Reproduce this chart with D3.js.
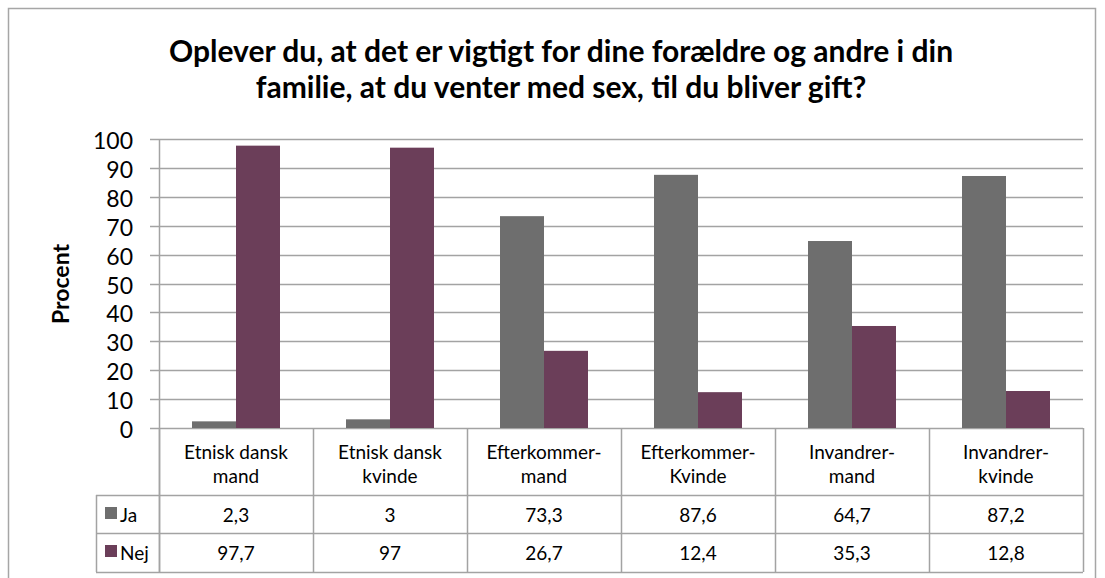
<!DOCTYPE html>
<html>
<head>
<meta charset="utf-8">
<script src="https://cdn.jsdelivr.net/npm/d3@7"></script>
<style>
  body { margin: 0; background: #fff; }
  text { font-family: Lato, "Open Sans", sans-serif; fill: #000; }
</style>
</head>
<body>
<svg id="chart" width="1105" height="578"></svg>
<script>
// data
var categories = [
	["Etnisk dansk", "mand"],
	["Etnisk dansk", "kvinde"],
	["Efterkommer-", "mand"],
	["Efterkommer-", "Kvinde"],
	["Invandrer-", "mand"],
	["Invandrer-", "kvinde"]
];
var seriesNames = ["Ja", "Nej"];
var ja = [2.3, 3, 73.3, 87.6, 64.7, 87.2];
var nej = [97.7, 97, 26.7, 12.4, 35.3, 12.8];
var yTicks = [0, 10, 20, 30, 40, 50, 60, 70, 80, 90, 100];
var titleLines = [
	"Oplever du, at det er vigtigt for dine forældre og andre i din",
	"familie, at du venter med sex, til du bliver gift?"
];
var colors = ["#6e6e6e", "#6b3e59"];

var svg = d3.select("#chart");
var gridColor = "#a3a3a3";

var plot = { left: 159, right: 1083, top: 139, bottom: 428 };
var table = { left: 96, header: 495, row1: 533, row2: 572 };

// outer frame
svg.append("rect")
	.attr("x", 8.5).attr("y", 8.5)
	.attr("width", 1087).attr("height", 620)
	.attr("fill", "none")
	.attr("stroke", "#a6a6a6")
	.attr("stroke-width", 1.5);

// title
svg.append("g").selectAll("text").data(titleLines).enter().append("text")
	.attr("x", 561)
	.attr("y", function(d, i) { return 62 + i * 36; })
	.attr("text-anchor", "middle")
	.attr("font-size", 30)
	.attr("font-weight", "bold")
	.text(function(d) { return d; });

// scales
var x = d3.scaleBand()
	.domain(d3.range(categories.length))
	.range([plot.left, plot.right])
	.paddingInner(66 / 154)
	.paddingOuter(33 / 154);
var step = (plot.right - plot.left) / categories.length;
var xs = d3.scaleBand().domain(seriesNames).range([0, x.bandwidth()]);
var y = d3.scaleLinear().domain([0, 100]).range([plot.bottom, plot.top]);

// gridlines + ticks
svg.append("g").selectAll("line").data(yTicks).enter().append("line")
	.attr("x1", plot.left - 9).attr("x2", plot.right)
	.attr("y1", function(d) { return Math.round(y(d)) + 0.5; })
	.attr("y2", function(d) { return Math.round(y(d)) + 0.5; })
	.attr("stroke", gridColor)
	.attr("stroke-width", 1.5);

svg.append("g").selectAll("text").data(yTicks).enter().append("text")
	.attr("x", 133)
	.attr("y", function(d) { return y(d) + 10; })
	.attr("text-anchor", "end")
	.attr("font-size", 23)
	.text(function(d) { return d; });

// y axis title
svg.append("text")
	.attr("transform", "translate(69,284) rotate(-90)")
	.attr("text-anchor", "middle")
	.attr("font-size", 23)
	.attr("font-weight", "bold")
	.text("Procent");

// bars
var groups = svg.append("g").selectAll("g").data(categories).enter().append("g")
	.attr("transform", function(d, i) { return "translate(" + x(i) + ",0)"; });

groups.selectAll("rect")
	.data(function(d, i) { return [{ s: "Ja", v: ja[i] }, { s: "Nej", v: nej[i] }]; })
	.enter().append("rect")
	.attr("x", function(d) { return xs(d.s); })
	.attr("y", function(d) { return y(d.v); })
	.attr("width", xs.bandwidth())
	.attr("height", function(d) { return y(0) - y(d.v); })
	.attr("fill", function(d, i) { return colors[i]; });

// axis line
svg.append("line")
	.attr("x1", plot.left + 0.5).attr("x2", plot.left + 0.5)
	.attr("y1", plot.top).attr("y2", table.row2)
	.attr("stroke", gridColor).attr("stroke-width", 1.5);

// data table
var tg = svg.append("g");
var hLines = [table.header, table.row1, table.row2];
tg.selectAll("line.h").data(hLines).enter().append("line")
	.attr("class", "h")
	.attr("x1", table.left).attr("x2", plot.right)
	.attr("y1", function(d) { return d + 0.5; })
	.attr("y2", function(d) { return d + 0.5; })
	.attr("stroke", gridColor).attr("stroke-width", 1.5);

tg.selectAll("line.v").data(d3.range(categories.length + 1)).enter().append("line")
	.attr("class", "v")
	.attr("x1", function(i) { return Math.round(plot.left + i * step) + 0.5; })
	.attr("x2", function(i) { return Math.round(plot.left + i * step) + 0.5; })
	.attr("y1", plot.bottom).attr("y2", table.row2)
	.attr("stroke", gridColor).attr("stroke-width", 1.5);

tg.append("line")
	.attr("x1", table.left + 0.5).attr("x2", table.left + 0.5)
	.attr("y1", table.header).attr("y2", table.row2)
	.attr("stroke", gridColor).attr("stroke-width", 1.5);

// category header
categories.forEach(function(c, i) {
	var cx = plot.left + (i + 0.5) * step;
	tg.selectAll(null).data(c).enter().append("text")
		.attr("x", cx)
		.attr("y", function(d, j) { return 459 + j * 24; })
		.attr("text-anchor", "middle")
		.attr("font-size", 19)
		.text(function(d) { return d; });
});

// value rows
var fmt = function(v) { return String(v).replace(".", ","); };
[ja, nej].forEach(function(vals, r) {
	var cy = [table.header, table.row1][r];
	tg.selectAll(null).data(vals).enter().append("text")
		.attr("x", function(d, i) { return plot.left + (i + 0.5) * step; })
		.attr("y", cy + 27)
		.attr("text-anchor", "middle")
		.attr("font-size", 19)
		.text(fmt);
	tg.append("rect")
		.attr("x", 105).attr("y", cy + 12)
		.attr("width", 12).attr("height", 12)
		.attr("fill", colors[r]);
	tg.append("text")
		.attr("x", 120).attr("y", cy + 27)
		.attr("font-size", 19)
		.text(seriesNames[r]);
});
</script>
</body>
</html>
